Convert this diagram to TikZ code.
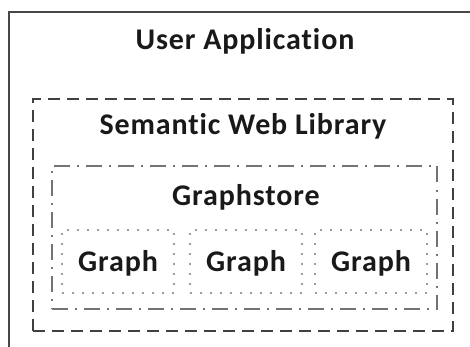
\documentclass[tikz,border=0pt]{standalone}
\usepackage{fontspec}
\setmainfont{Carlito}[Ligatures={NoCommon}, LetterSpace=3]
\begin{document}
\begin{tikzpicture}[x=1pt,y=-1pt,
  frame/.style={draw, inner sep=0pt, outer sep=0pt},
  appbox/.style={frame, draw=black!72, line width=2.5pt},
  libbox/.style={frame, draw=black!75, line width=2pt, dash pattern=on 12pt off 7pt},
  storebox/.style={frame, draw=black!55, line width=2pt, dash pattern=on 16pt off 7pt on 2pt off 7pt},
  graphbox/.style={frame, draw=black!38, line width=1.8pt, dash pattern=on 2pt off 8pt},
  caption/.style={anchor=base, inner sep=0pt, font=\fontsize{30}{34}\selectfont\bfseries, text=black!90}]
  \useasboundingbox (0,0) rectangle (470,347);
  \clip (0,0) rectangle (470,347);
  \fill[white] (0,0) rectangle (470,347);

  % nested containers
  \node[appbox, minimum width=480pt, minimum height=360pt] (app) at (249,192) {};
  \node[libbox, minimum width=420pt, minimum height=232pt] (lib) at (243,215) {};
  \node[storebox, minimum width=385.5pt, minimum height=143pt] (store) at (244.25,237.5) {};
  \node[graphbox, minimum width=112pt, minimum height=63pt] (g1) at (118,261.5) {};
  \node[graphbox, minimum width=112pt, minimum height=63pt] (g2) at (246,261.5) {};
  \node[graphbox, minimum width=112pt, minimum height=63pt] (g3) at (371,261.5) {};

  % titles
  \node[caption] (tapp) at (245,50) {User Application};
  \node[caption] (tlib) at (243,135) {Semantic Web Library};
  \node[caption] (tstore) at (246,205) {Graphstore};
  \node[caption] (tg1) at (g1.center |- 0,271) {Graph};
  \node[caption] (tg2) at (g2.center |- 0,271) {Graph};
  \node[caption] (tg3) at (g3.center |- 0,271) {Graph};
\end{tikzpicture}
\end{document}
